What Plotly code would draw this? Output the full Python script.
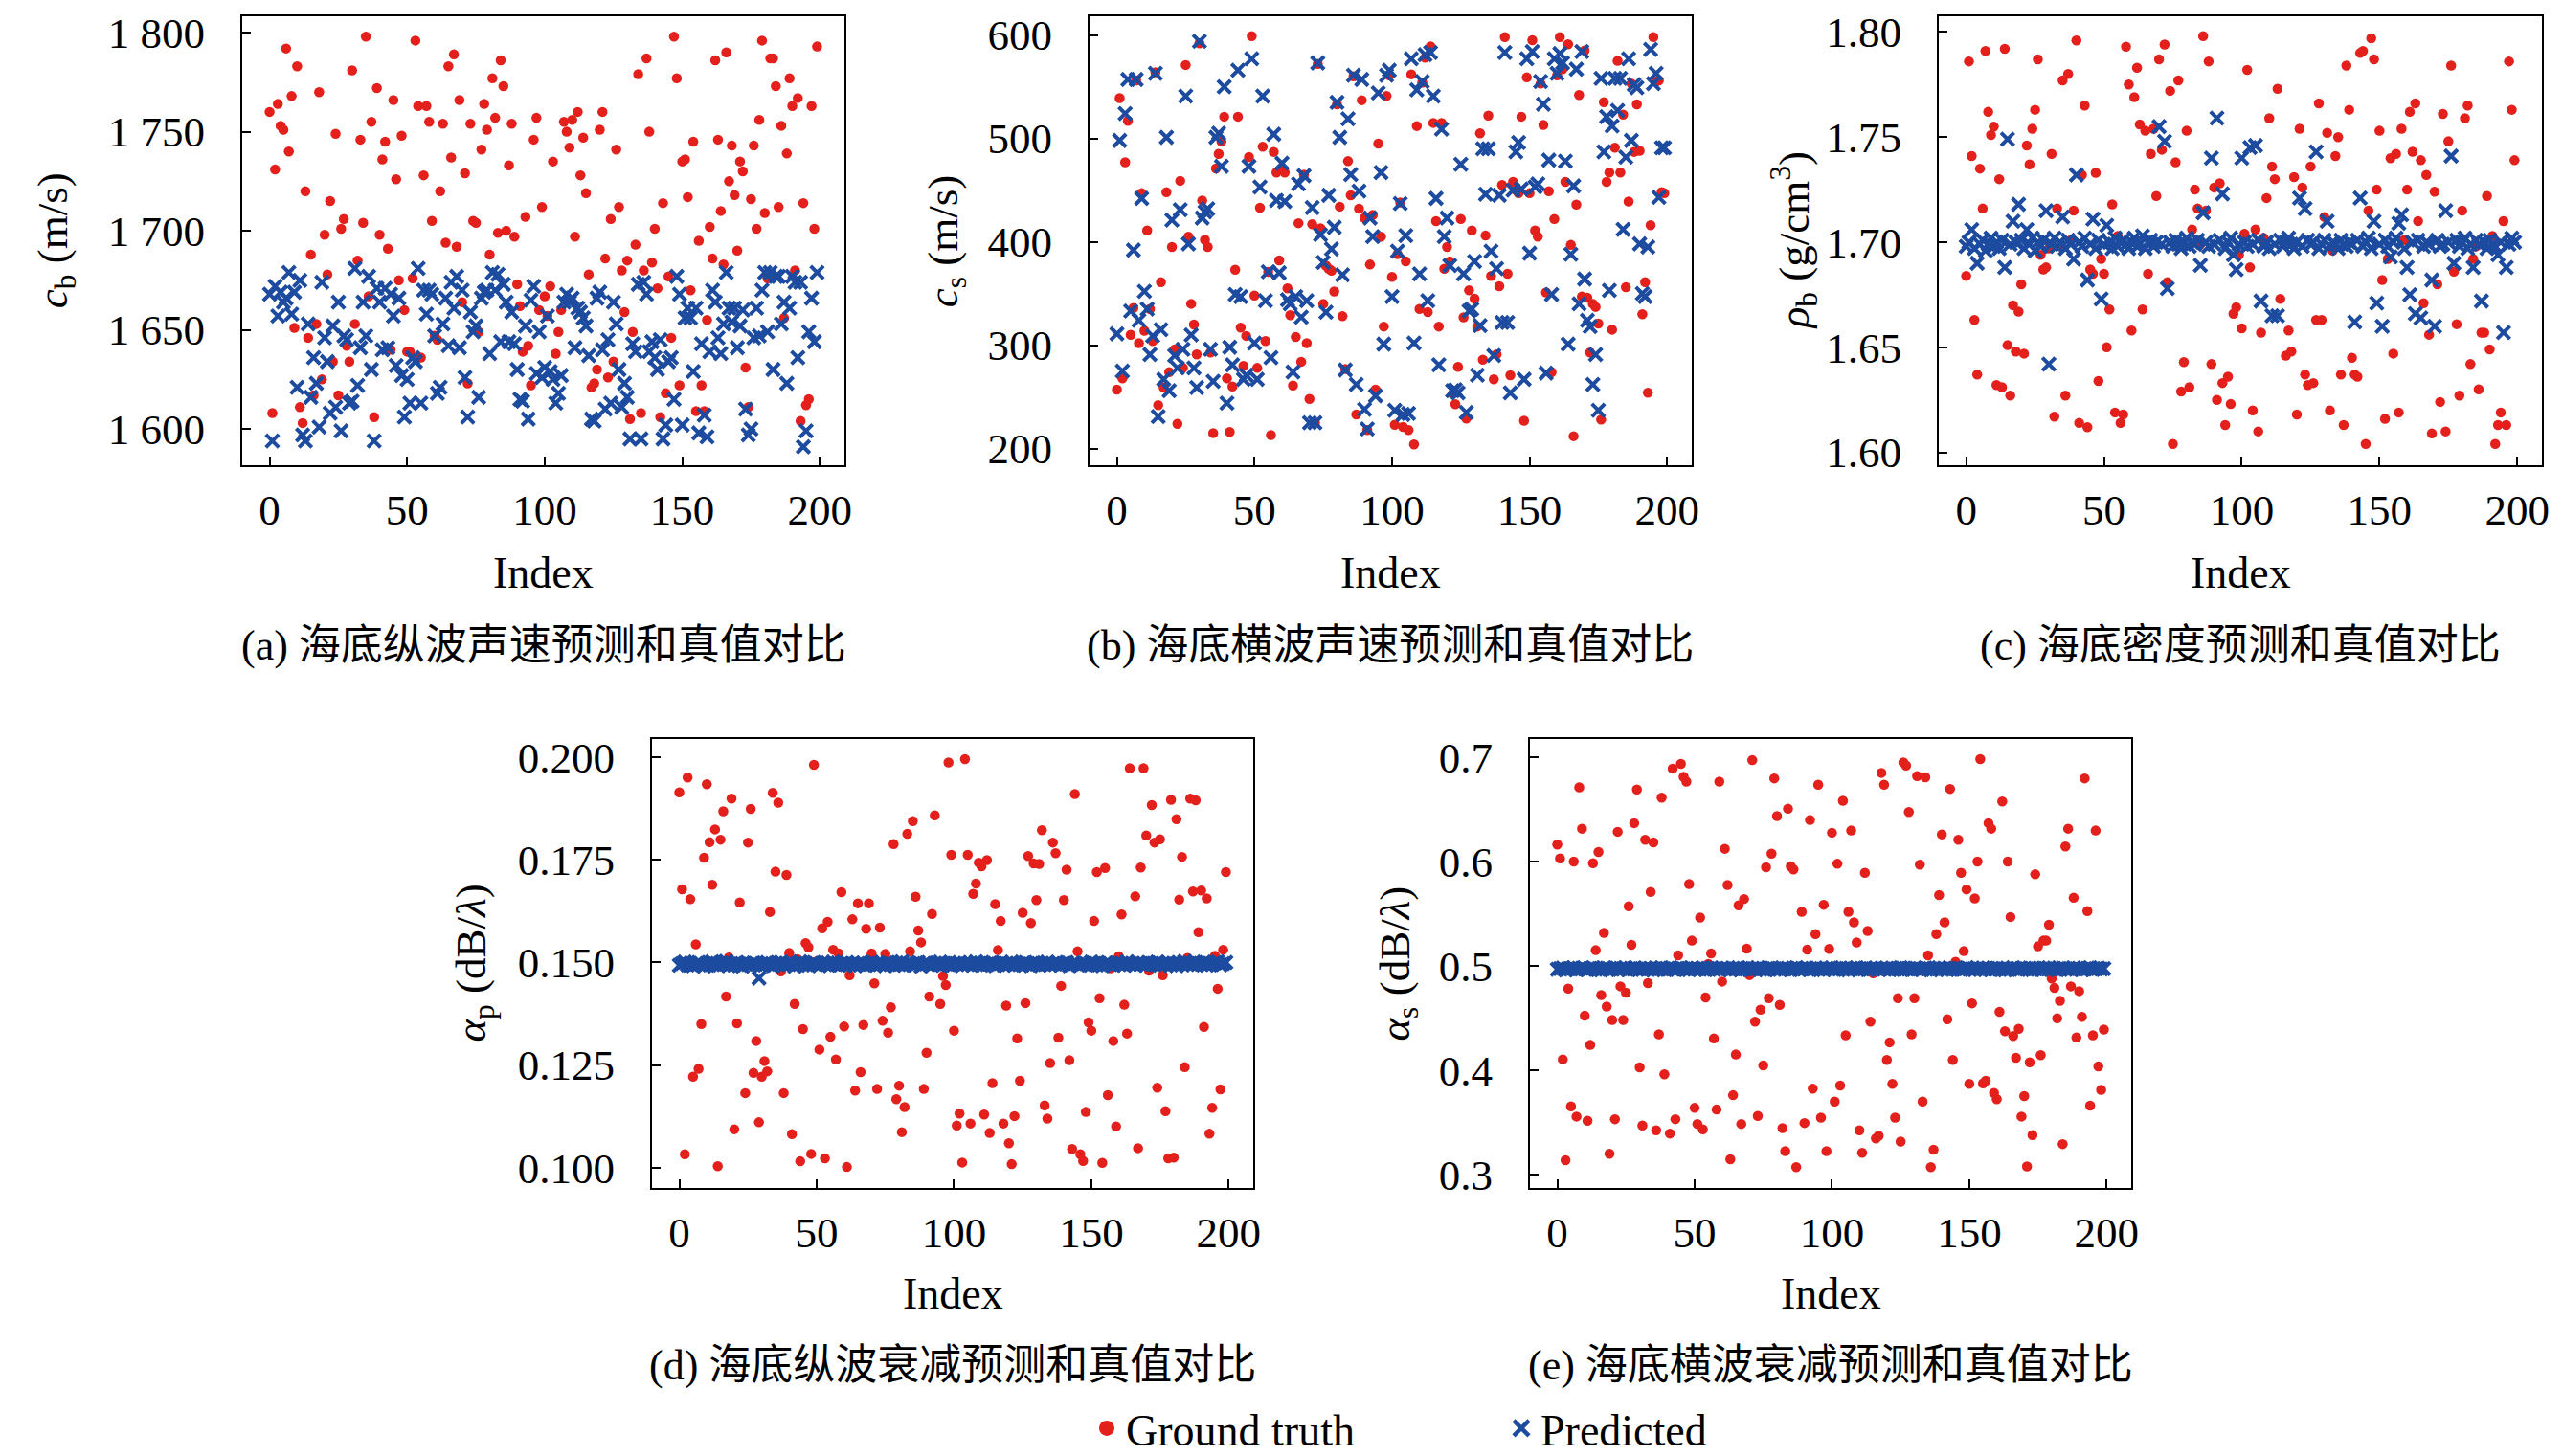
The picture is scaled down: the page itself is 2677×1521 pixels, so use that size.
import plotly.graph_objects as go

# ---------------- data ----------------
a_true = [1760, 1608, 1731, 1764, 1753, 1751, 1792, 1740, 1768, 1651,
          1783, 1611, 1603, 1720, 1646, 1688, 1617, 1653, 1770, 1625,
          1698, 1678, 1715, 1634, 1749, 1617, 1701, 1706, 1642, 1634,
          1781, 1653, 1685, 1746, 1704, 1798, 1667, 1755, 1606, 1772,
          1698, 1736, 1745, 1691, 1640, 1766, 1726, 1675, 1748, 1660,
          1639, 1639, 1676, 1796, 1763, 1636, 1728, 1763, 1755, 1705,
          1647, 1645, 1720, 1754, 1694, 1783, 1737, 1789, 1692, 1766,
          1664, 1729, 1623, 1754, 1705, 1704, 1649, 1741, 1764, 1751,
          1688, 1777, 1757, 1699, 1786, 1773, 1700, 1733, 1754, 1697,
          1673, 1662, 1639, 1707, 1642, 1622, 1746, 1757, 1660, 1712,
          1667, 1657, 1672, 1735, 1638, 1649, 1660, 1755, 1750, 1742,
          1756, 1697, 1760, 1728, 1747, 1719, 1678, 1621, 1623, 1630,
          1751, 1760, 1686, 1626, 1706, 1634, 1741, 1712, 1680, 1659,
          1685, 1605, 1649, 1693, 1779, 1608, 1680, 1787, 1750, 1684,
          1701, 1671, 1606, 1714, 1618, 1677, 1646, 1798, 1777, 1622,
          1735, 1736, 1717, 1670, 1745, 1609, 1695, 1622, 1609, 1655,
          1702, 1686, 1786, 1746, 1710, 1683, 1790, 1725, 1743, 1718,
          1690, 1735, 1730, 1631, 1611, 1716, 1743, 1701, 1756, 1796,
          1709, 1676, 1787, 1787, 1773, 1712, 1753, 1656, 1739, 1777,
          1763, 1680, 1767, 1604, 1714, 1612, 1615, 1763, 1701, 1793]
a_pred = [1668, 1594, 1672, 1657, 1669, 1664, 1666, 1679, 1658, 1669,
          1621, 1675, 1597, 1594, 1653, 1616, 1636, 1623, 1601, 1674,
          1646, 1634, 1608, 1652, 1611, 1664, 1599, 1647, 1645, 1613,
          1614, 1681, 1622, 1641, 1664, 1647, 1677, 1630, 1594, 1671,
          1664, 1640, 1671, 1641, 1668, 1657, 1632, 1666, 1627, 1606,
          1625, 1613, 1636, 1634, 1681, 1613, 1670, 1658, 1670, 1668,
          1647, 1618, 1621, 1653, 1666, 1642, 1674, 1661, 1677, 1641,
          1670, 1626, 1606, 1659, 1649, 1652, 1616, 1666, 1669, 1670,
          1638, 1679, 1670, 1678, 1644, 1673, 1664, 1644, 1659, 1643,
          1630, 1615, 1614, 1652, 1605, 1665, 1672, 1628, 1649, 1626,
          1631, 1657, 1629, 1625, 1613, 1618, 1627, 1664, 1668, 1664,
          1666, 1641, 1661, 1659, 1656, 1652, 1637, 1605, 1604, 1666,
          1669, 1640, 1610, 1645, 1613, 1664, 1653, 1630, 1611, 1623,
          1616, 1595, 1643, 1639, 1673, 1595, 1674, 1668, 1639, 1644,
          1636, 1630, 1645, 1595, 1602, 1634, 1636, 1615, 1677, 1668,
          1602, 1656, 1661, 1656, 1629, 1661, 1598, 1643, 1607, 1596,
          1639, 1670, 1664, 1646, 1638, 1653, 1679, 1661, 1654, 1661,
          1641, 1652, 1660, 1610, 1597, 1600, 1646, 1661, 1647, 1670,
          1679, 1649, 1679, 1630, 1677, 1677, 1653, 1664, 1623, 1661,
          1677, 1674, 1636, 1674, 1591, 1599, 1649, 1666, 1644, 1679]

b_true = [257, 539, 268, 477, 517, 310, 336, 556, 302, 447,
          314, 411, 335, 304, 564, 242, 361, 259, 448, 274,
          395, 296, 224, 459, 278, 571, 405, 340, 320, 291,
          592, 440, 402, 395, 293, 215, 471, 485, 497, 521,
          268, 216, 260, 373, 521, 317, 280, 309, 482, 599,
          348, 278, 433, 492, 304, 371, 213, 487, 467, 382,
          471, 467, 355, 329, 261, 308, 418, 284, 465, 302,
          248, 417, 225, 572, 413, 340, 377, 374, 372, 352,
          533, 434, 328, 277, 478, 445, 560, 233, 432, 537,
          423, 218, 378, 426, 257, 495, 405, 318, 541, 561,
          366, 223, 388, 438, 221, 381, 218, 562, 204, 512,
          335, 554, 578, 332, 589, 515, 420, 318, 515, 374,
          395, 381, 253, 243, 279, 422, 327, 229, 353, 411,
          345, 318, 505, 286, 406, 522, 367, 267, 291, 357,
          455, 598, 369, 271, 458, 450, 447, 521, 227, 559,
          447, 595, 411, 405, 553, 513, 351, 449, 274, 422,
          561, 598, 567, 458, 591, 397, 212, 436, 542, 347,
          585, 346, 293, 340, 337, 321, 228, 535, 458, 467,
          315, 491, 575, 467, 523, 356, 439, 553, 487, 533,
          488, 330, 361, 254, 416, 598, 555, 556, 448, 447]
b_pred = [311, 498, 275, 524, 557, 333, 392, 557, 324, 442,
          352, 335, 291, 309, 563, 231, 315, 267, 501, 256,
          421, 290, 278, 431, 296, 541, 398, 310, 278, 259,
          594, 423, 429, 432, 296, 265, 501, 505, 473, 550,
          244, 298, 281, 349, 566, 347, 267, 271, 473, 577,
          302, 267, 453, 541, 343, 371, 288, 504, 440, 370,
          476, 439, 344, 340, 274, 347, 456, 327, 464, 343,
          225, 433, 225, 573, 407, 380, 332, 445, 393, 414,
          535, 501, 368, 276, 519, 465, 561, 262, 449, 557,
          238, 219, 423, 405, 251, 544, 467, 301, 561, 566,
          347, 237, 391, 437, 233, 406, 234, 577, 302, 547,
          369, 555, 581, 343, 583, 541, 442, 281, 509, 405,
          423, 377, 256, 257, 254, 475, 369, 235, 333, 335,
          381, 271, 319, 490, 446, 490, 391, 290, 374, 445,
          322, 583, 322, 254, 450, 487, 496, 451, 267, 577,
          389, 584, 453, 456, 555, 533, 273, 479, 349, 577,
          563, 582, 573, 478, 301, 388, 454, 567, 340, 584,
          364, 324, 318, 262, 291, 237, 558, 487, 521, 353,
          512, 558, 527, 558, 412, 482, 577, 498, 552, 549,
          398, 350, 347, 395, 586, 553, 563, 443, 491, 491]

c_true = [1.684, 1.786, 1.741, 1.663, 1.637, 1.735, 1.716, 1.791, 1.762, 1.751,
          1.755, 1.632, 1.730, 1.631, 1.792, 1.651, 1.627, 1.670, 1.648, 1.667,
          1.680, 1.647, 1.746, 1.737, 1.754, 1.763, 1.787, 1.694, 1.687, 1.688,
          1.697, 1.742, 1.617, 1.716, 1.698, 1.777, 1.627, 1.780, 1.701, 1.715,
          1.796, 1.614, 1.732, 1.765, 1.612, 1.687, 1.685, 1.733, 1.634, 1.692,
          1.685, 1.650, 1.668, 1.718, 1.619, 1.703, 1.614, 1.618, 1.793, 1.775,
          1.658, 1.769, 1.783, 1.756, 1.668, 1.753, 1.685, 1.742, 1.754, 1.722,
          1.787, 1.744, 1.794, 1.681, 1.772, 1.604, 1.738, 1.777, 1.629, 1.643,
          1.753, 1.631, 1.706, 1.725, 1.716, 1.699, 1.798, 1.715, 1.786, 1.642,
          1.726, 1.625, 1.728, 1.633, 1.613, 1.636, 1.623, 1.666, 1.669, 1.694,
          1.659, 1.704, 1.782, 1.688, 1.620, 1.706, 1.610, 1.657, 1.702, 1.721,
          1.759, 1.736, 1.730, 1.773, 1.673, 1.700, 1.646, 1.658, 1.648, 1.731,
          1.618, 1.754, 1.726, 1.637, 1.632, 1.736, 1.633, 1.663, 1.766, 1.663,
          1.712, 1.752, 1.620, 1.696, 1.741, 1.750, 1.637, 1.613, 1.784, 1.763,
          1.645, 1.637, 1.636, 1.790, 1.791, 1.604, 1.715, 1.797, 1.787, 1.725,
          1.753, 1.682, 1.616, 1.692, 1.740, 1.647, 1.742, 1.619, 1.754, 1.701,
          1.725, 1.762, 1.743, 1.766, 1.710, 1.739, 1.671, 1.732, 1.656, 1.609,
          1.724, 1.680, 1.624, 1.761, 1.610, 1.748, 1.784, 1.686, 1.661, 1.627,
          1.715, 1.759, 1.765, 1.642, 1.692, 1.698, 1.630, 1.657, 1.657, 1.722,
          1.649, 1.703, 1.604, 1.613, 1.619, 1.710, 1.613, 1.786, 1.763, 1.739]
c_pred = [1.698, 1.700, 1.706, 1.697, 1.690, 1.699, 1.701, 1.696, 1.699, 1.702,
          1.698, 1.700, 1.697, 1.701, 1.688, 1.749, 1.699, 1.710, 1.700, 1.718,
          1.701, 1.697, 1.706, 1.699, 1.702, 1.696, 1.700, 1.698, 1.701, 1.715,
          1.642, 1.699, 1.702, 1.698, 1.700, 1.712, 1.697, 1.701, 1.699, 1.692,
          1.732, 1.700, 1.698, 1.702, 1.682, 1.699, 1.711, 1.697, 1.701, 1.673,
          1.699, 1.708, 1.700, 1.697, 1.702, 1.698, 1.700, 1.701, 1.699, 1.697,
          1.700, 1.702, 1.698, 1.699, 1.703, 1.697, 1.700, 1.701, 1.698, 1.700,
          1.755, 1.699, 1.748, 1.678, 1.700, 1.698, 1.701, 1.699, 1.697, 1.700,
          1.702, 1.698, 1.700, 1.699, 1.701, 1.689, 1.714, 1.700, 1.698, 1.740,
          1.699, 1.759, 1.701, 1.723, 1.697, 1.700, 1.702, 1.694, 1.687, 1.699,
          1.740, 1.700, 1.698, 1.745, 1.699, 1.746, 1.701, 1.672, 1.698, 1.700,
          1.697, 1.665, 1.699, 1.665, 1.701, 1.698, 1.700, 1.702, 1.699, 1.697,
          1.700, 1.721, 1.698, 1.716, 1.701, 1.699, 1.700, 1.743, 1.697, 1.699,
          1.701, 1.710, 1.698, 1.700, 1.699, 1.697, 1.701, 1.699, 1.698, 1.700,
          1.699, 1.662, 1.701, 1.721, 1.698, 1.700, 1.702, 1.697, 1.710, 1.671,
          1.699, 1.660, 1.701, 1.698, 1.693, 1.700, 1.702, 1.709, 1.713, 1.697,
          1.688, 1.675, 1.700, 1.666, 1.701, 1.664, 1.698, 1.700, 1.699, 1.682,
          1.660, 1.701, 1.698, 1.699, 1.715, 1.700, 1.741, 1.690, 1.701, 1.698,
          1.700, 1.702, 1.697, 1.699, 1.688, 1.701, 1.699, 1.672, 1.700, 1.697,
          1.701, 1.699, 1.698, 1.694, 1.700, 1.657, 1.688, 1.699, 1.702, 1.700]

d_true = [0.1914, 0.1678, 0.1033, 0.1950, 0.1654, 0.1222, 0.1544, 0.1241, 0.1350, 0.1755,
          0.1934, 0.1793, 0.1689, 0.1824, 0.1004, 0.1799, 0.1868, 0.1417, 0.1512, 0.1899,
          0.1094, 0.1352, 0.1646, 0.1495, 0.1182, 0.1792, 0.1874, 0.1231, 0.1309, 0.1111,
          0.1222, 0.1260, 0.1235, 0.1623, 0.1913, 0.1721, 0.1889, 0.1478, 0.1182, 0.1713,
          0.1523, 0.1082, 0.1399, 0.1508, 0.1016, 0.1338, 0.1547, 0.1537, 0.1034, 0.1981,
          0.1503, 0.1288, 0.1583, 0.1023, 0.1599, 0.1319, 0.1531, 0.1264, 0.1522, 0.1671,
          0.1344, 0.1002, 0.1469, 0.1605, 0.1188, 0.1644, 0.1233, 0.1348, 0.1582, 0.1644,
          0.1522, 0.1449, 0.1192, 0.1585, 0.1358, 0.1521, 0.1329, 0.1391, 0.1788, 0.1167,
          0.1200, 0.1087, 0.1148, 0.1813, 0.1527, 0.1844, 0.1660, 0.1578, 0.1549, 0.1192,
          0.1280, 0.1417, 0.1618, 0.1858, 0.1492, 0.1399, 0.1467, 0.1445, 0.1987, 0.1762,
          0.1334, 0.1103, 0.1132, 0.1013, 0.1995, 0.1762, 0.1108, 0.1667, 0.1692, 0.1743,
          0.1734, 0.1130, 0.1749, 0.1085, 0.1206, 0.1642, 0.1530, 0.1601, 0.1108, 0.1395,
          0.1060, 0.1009, 0.1126, 0.1315, 0.1212, 0.1621, 0.1401, 0.1759, 0.1596, 0.1741,
          0.1652, 0.1740, 0.1822, 0.1152, 0.1120, 0.1255, 0.1792, 0.1766, 0.1317, 0.1443,
          0.1652, 0.1726, 0.1262, 0.1046, 0.1910, 0.1527, 0.1033, 0.1017, 0.1136, 0.1354,
          0.1334, 0.1601, 0.1720, 0.1413, 0.1012, 0.1730, 0.1177, 0.1486, 0.1309, 0.1101,
          0.1515, 0.1617, 0.1397, 0.1327, 0.1973, 0.1498, 0.1661, 0.1048, 0.1731, 0.1973,
          0.1809, 0.1480, 0.1883, 0.1792, 0.1195, 0.1800, 0.1469, 0.1138, 0.1023, 0.1896,
          0.1025, 0.1849, 0.1653, 0.1757, 0.1245, 0.1511, 0.1899, 0.1673, 0.1895, 0.1574,
          0.1675, 0.1343, 0.1656, 0.1083, 0.1146, 0.1516, 0.1436, 0.1191, 0.1531, 0.1720]
d_pred = [0.1493, 0.1497, 0.1501, 0.1494, 0.1498, 0.1492, 0.1496, 0.1500, 0.1495, 0.1491,
          0.1498, 0.1494, 0.1502, 0.1496, 0.1493, 0.1499, 0.1495, 0.1503, 0.1492, 0.1497,
          0.1494, 0.1500, 0.1496, 0.1491, 0.1498, 0.1495, 0.1493, 0.1499, 0.1496, 0.1462,
          0.1497, 0.1494, 0.1500, 0.1495, 0.1492, 0.1498, 0.1496, 0.1501, 0.1493, 0.1497,
          0.1495, 0.1499, 0.1491, 0.1496, 0.1502, 0.1494, 0.1498, 0.1493, 0.1497, 0.1500,
          0.1495, 0.1492, 0.1498, 0.1496, 0.1499, 0.1494, 0.1501, 0.1495, 0.1493, 0.1497,
          0.1496, 0.1500, 0.1494, 0.1498, 0.1492, 0.1497, 0.1495, 0.1499, 0.1493, 0.1496,
          0.1501, 0.1494, 0.1498, 0.1495, 0.1497, 0.1492, 0.1500, 0.1496, 0.1494, 0.1499,
          0.1495, 0.1502, 0.1493, 0.1497, 0.1498, 0.1494, 0.1496, 0.1500, 0.1491, 0.1497,
          0.1499, 0.1495, 0.1493, 0.1498, 0.1496, 0.1501, 0.1494, 0.1497, 0.1495, 0.1492,
          0.1498, 0.1496, 0.1500, 0.1493, 0.1497, 0.1495, 0.1499, 0.1494, 0.1502, 0.1496,
          0.1493, 0.1498, 0.1495, 0.1497, 0.1500, 0.1492, 0.1496, 0.1499, 0.1494, 0.1497,
          0.1495, 0.1501, 0.1493, 0.1498, 0.1496, 0.1494, 0.1500, 0.1497, 0.1492, 0.1499,
          0.1496, 0.1494, 0.1498, 0.1495, 0.1501, 0.1493, 0.1497, 0.1496, 0.1499, 0.1494,
          0.1497, 0.1500, 0.1492, 0.1496, 0.1498, 0.1495, 0.1493, 0.1499, 0.1497, 0.1494,
          0.1501, 0.1496, 0.1494, 0.1498, 0.1492, 0.1497, 0.1500, 0.1495, 0.1493, 0.1499,
          0.1496, 0.1498, 0.1494, 0.1502, 0.1495, 0.1497, 0.1493, 0.1500, 0.1496, 0.1498,
          0.1494, 0.1499, 0.1497, 0.1495, 0.1501, 0.1493, 0.1498, 0.1496, 0.1500, 0.1494,
          0.1497, 0.1492, 0.1499, 0.1496, 0.1503, 0.1495, 0.1498, 0.1494, 0.1500, 0.1497,
          0.1496, 0.1501, 0.1493, 0.1498, 0.1495, 0.1499, 0.1502, 0.1494, 0.1497, 0.1500]

e_true = [0.6165, 0.6033, 0.4105, 0.3138, 0.4784, 0.3654, 0.6002, 0.3556, 0.6715, 0.6318,
          0.4523, 0.3516, 0.4243, 0.5987, 0.5152, 0.6094, 0.4722, 0.5318, 0.4612, 0.3200,
          0.4483, 0.3531, 0.6288, 0.4805, 0.4483, 0.4744, 0.5573, 0.5204, 0.6371, 0.6693,
          0.4028, 0.3470, 0.6211, 0.4836, 0.5711, 0.6186, 0.3424, 0.4345, 0.6616, 0.3961,
          0.4952, 0.3393, 0.6893, 0.3531, 0.5103, 0.6939, 0.6816, 0.6770, 0.5787, 0.5244,
          0.3639, 0.3485, 0.5465, 0.3433, 0.4698, 0.5021, 0.5121, 0.4305, 0.3623, 0.6770,
          0.4851, 0.6125, 0.5778, 0.3147, 0.3761, 0.4151, 0.5582, 0.3485, 0.5643, 0.5167,
          0.4913, 0.6975, 0.4467, 0.3562, 0.4581, 0.4047, 0.5947, 0.4691, 0.6079, 0.6800,
          0.6438, 0.4627, 0.3445, 0.3224, 0.6509, 0.5956, 0.5926, 0.3071, 0.4985, 0.5520,
          0.3494, 0.5158, 0.6401, 0.3823, 0.5306, 0.6739, 0.3546, 0.5588, 0.3224, 0.5164,
          0.6279, 0.3700, 0.5981, 0.3854, 0.6586, 0.4335, 0.5520, 0.6300, 0.5419, 0.5226,
          0.3424, 0.3209, 0.5895, 0.5336, 0.4467, 0.4930, 0.3347, 0.3372, 0.6853, 0.6739,
          0.4099, 0.4268, 0.3869, 0.3546, 0.4691, 0.3316, 0.6954, 0.6923, 0.6478, 0.4345,
          0.4691, 0.6822, 0.5972, 0.3700, 0.6810, 0.5103, 0.3071, 0.3239, 0.5306, 0.5680,
          0.6263, 0.5419, 0.4489, 0.6699, 0.4099, 0.5040, 0.6211, 0.5895, 0.5143, 0.5735,
          0.3869, 0.4642, 0.5649, 0.6002, 0.6985, 0.3875, 0.3900, 0.6371, 0.6318, 0.3783,
          0.3722, 0.4560, 0.6579, 0.4375, 0.6002, 0.5471, 0.4329, 0.4120, 0.4397, 0.3556,
          0.3752, 0.3077, 0.4077, 0.3378, 0.5880, 0.5189, 0.4145, 0.5244, 0.5244, 0.5397,
          0.4880, 0.4790, 0.4498, 0.4667, 0.3292, 0.6147, 0.6318, 0.4805, 0.5655, 0.4314,
          0.4759, 0.4513, 0.6800, 0.5527, 0.3660, 0.4335, 0.6300, 0.4038, 0.3813, 0.4391]
e_pred = [0.4968, 0.4975, 0.4981, 0.4962, 0.4977, 0.4970, 0.4984, 0.4966, 0.4973, 0.4979,
          0.4971, 0.4964, 0.4978, 0.4983, 0.4969, 0.4974, 0.4961, 0.4976, 0.4980, 0.4967,
          0.4972, 0.4985, 0.4965, 0.4977, 0.4970, 0.4982, 0.4963, 0.4975, 0.4979, 0.4968,
          0.4974, 0.4966, 0.4981, 0.4971, 0.4976, 0.4962, 0.4978, 0.4969, 0.4984, 0.4973,
          0.4967, 0.4980, 0.4972, 0.4965, 0.4977, 0.4983, 0.4970, 0.4975, 0.4963, 0.4979,
          0.4971, 0.4976, 0.4968, 0.4982, 0.4964, 0.4974, 0.4980, 0.4969, 0.4977, 0.4966,
          0.4981, 0.4972, 0.4975, 0.4962, 0.4978, 0.4970, 0.4984, 0.4967, 0.4973, 0.4979,
          0.4965, 0.4976, 0.4971, 0.4983, 0.4968, 0.4974, 0.4961, 0.4977, 0.4980, 0.4969,
          0.4975, 0.4966, 0.4982, 0.4972, 0.4978, 0.4964, 0.4970, 0.4985, 0.4967, 0.4976,
          0.4973, 0.4979, 0.4963, 0.4971, 0.4981, 0.4968, 0.4975, 0.4965, 0.4977, 0.4970,
          0.4983, 0.4966, 0.4974, 0.4980, 0.4969, 0.4976, 0.4962, 0.4978, 0.4972, 0.4984,
          0.4967, 0.4973, 0.4979, 0.4964, 0.4975, 0.4970, 0.4982, 0.4968, 0.4977, 0.4971,
          0.4976, 0.4963, 0.4980, 0.4969, 0.4974, 0.4985, 0.4966, 0.4978, 0.4972, 0.4965,
          0.4979, 0.4970, 0.4975, 0.4967, 0.4981, 0.4973, 0.4962, 0.4977, 0.4969, 0.4983,
          0.4971, 0.4976, 0.4964, 0.4980, 0.4968, 0.4974, 0.4978, 0.4966, 0.4972, 0.4984,
          0.4970, 0.4975, 0.4963, 0.4979, 0.4967, 0.4982, 0.4971, 0.4976, 0.4965, 0.4973,
          0.4980, 0.4968, 0.4977, 0.4962, 0.4974, 0.4969, 0.4983, 0.4972, 0.4966, 0.4978,
          0.4975, 0.4970, 0.4981, 0.4964, 0.4976, 0.4971, 0.4967, 0.4979, 0.4973, 0.4985,
          0.4968, 0.4977, 0.4963, 0.4974, 0.4980, 0.4969, 0.4975, 0.4966, 0.4982, 0.4972,
          0.4978, 0.4965, 0.4971, 0.4976, 0.4984, 0.4967, 0.4973, 0.4979, 0.4970, 0.4975]

x_tickvals = [0, 50, 100, 150, 200]
x_ticktext = ["0", "50", "100", "150", "200"]
a_ticks = [1600, 1650, 1700, 1750, 1800]
a_ticktext = ["1 600", "1 650", "1 700", "1 750", "1 800"]
b_ticks = [200, 300, 400, 500, 600]
b_ticktext = ["200", "300", "400", "500", "600"]
c_ticks = [1.60, 1.65, 1.70, 1.75, 1.80]
c_ticktext = ["1.60", "1.65", "1.70", "1.75", "1.80"]
d_ticks = [0.100, 0.125, 0.150, 0.175, 0.200]
d_ticktext = ["0.100", "0.125", "0.150", "0.175", "0.200"]
e_ticks = [0.3, 0.4, 0.5, 0.6, 0.7]
e_ticktext = ["0.3", "0.4", "0.5", "0.6", "0.7"]

y_titles = ["<i>c</i><sub>b</sub> (m/s)", "<i>c</i><sub>s</sub> (m/s)",
            "<i>ρ</i><sub>b</sub> (g/cm<sup>3</sup>)",
            "<i>α</i><sub>p</sub> (dB/<i>λ</i>)", "<i>α</i><sub>s</sub> (dB/<i>λ</i>)"]
captions = ["(a) 海底纵波声速预测和真值对比", "(b) 海底横波声速预测和真值对比",
            "(c) 海底密度预测和真值对比", "(d) 海底纵波衰减预测和真值对比",
            "(e) 海底横波衰减预测和真值对比"]
series_names = ["Ground truth", "Predicted"]

# ---------------- layout geometry (px of 2677x1521) ----------------
W, H = 2677, 1521
FONT = "Liberation Serif, Noto Sans CJK SC, serif"
RED = "#e3201b"
BLUE = "#1c4b9f"

panels = [
    dict(x0=245, x1=874, y0=8.5, y1=478, yr=[1581.7, 1808.5], tv=a_ticks, tt=a_ticktext,
         true=a_true, pred=a_pred, ytx=50),
    dict(x0=1130, x1=1759, y0=8.5, y1=478, yr=[183.9, 618.6], tv=b_ticks, tt=b_ticktext,
         true=b_true, pred=b_pred, ytx=980),
    dict(x0=2017, x1=2647, y0=8.5, y1=478, yr=[1.5939, 1.8077], tv=c_ticks, tt=c_ticktext,
         true=c_true, pred=c_pred, ytx=1865),
    dict(x0=673, x1=1301, y0=764, y1=1233, yr=[0.0951, 0.2044], tv=d_ticks, tt=d_ticktext,
         true=d_true, pred=d_pred, ytx=487),
    dict(x0=1590, x1=2218, y0=764, y1=1233, yr=[0.2871, 0.7178], tv=e_ticks, tt=e_ticktext,
         true=e_true, pred=e_pred, ytx=1452),
]

fig = go.Figure()
layout = dict(width=W, height=H,
              margin=dict(l=0, r=0, t=0, b=0, autoexpand=False),
              paper_bgcolor="white", plot_bgcolor="white",
              font=dict(family=FONT, size=45, color="black"))
annotations = []

for i, p in enumerate(panels):
    k = "" if i == 0 else str(i + 1)
    xa, ya = "x" + k, "y" + k
    common = dict(showline=True, mirror=True, linecolor="black", linewidth=2,
                  ticks="inside", ticklen=9, tickwidth=1.5, tickcolor="black",
                  showgrid=False, zeroline=False, automargin=False,
                  tickfont=dict(family=FONT, size=45, color="black"))
    layout["xaxis" + k] = dict(domain=[p["x0"] / W, p["x1"] / W], anchor=ya,
                              range=[-9.95, 208.95], tickmode="array",
                              tickvals=x_tickvals, ticktext=x_ticktext,
                              ticklabelstandoff=6, **common)
    layout["yaxis" + k] = dict(domain=[1 - p["y1"] / H, 1 - p["y0"] / H], anchor=xa,
                              range=p["yr"], tickmode="array", tickvals=p["tv"],
                              ticktext=p["tt"], ticklabelstandoff=28, **common)
    idx = list(range(len(p["true"])))
    fig.add_trace(go.Scatter(x=idx, y=p["true"], mode="markers", xaxis=xa, yaxis=ya,
                             name=series_names[0], showlegend=False,
                             marker=dict(symbol="circle", size=10.5, color=RED,
                                         line=dict(width=0))))
    idxp = list(range(len(p["pred"])))
    fig.add_trace(go.Scatter(x=idxp, y=p["pred"], mode="markers", xaxis=xa, yaxis=ya,
                             name=series_names[1], showlegend=False,
                             marker=dict(symbol="x-thin", size=13.5, color=BLUE,
                                         line=dict(width=4, color=BLUE))))
    cx = (p["x0"] + p["x1"]) / 2 / W
    cy = 1 - (p["y0"] + p["y1"]) / 2 / H
    row2 = i >= 3
    annotations.append(dict(text=y_titles[i], x=p["ytx"] / W, y=cy, xref="paper",
                            yref="paper", textangle=-90, showarrow=False,
                            xanchor="center", yanchor="middle",
                            font=dict(family=FONT, size=45, color="black")))
    annotations.append(dict(text="Index", x=cx, y=1 - (1343 if row2 else 590) / H,
                            xref="paper", yref="paper", showarrow=False,
                            xanchor="center", yanchor="middle",
                            font=dict(family=FONT, size=46, color="black")))
    annotations.append(dict(text=captions[i], x=cx, y=1 - (1418 if row2 else 667) / H,
                            xref="paper", yref="paper", showarrow=False,
                            xanchor="center", yanchor="middle",
                            font=dict(family=FONT, size=44, color="black")))

# legend entries (no data; they only carry the legend symbols)
fig.add_trace(go.Scatter(x=[None], y=[None], mode="markers", name=series_names[0],
                         marker=dict(symbol="circle", size=16, color=RED, line=dict(width=0))))
fig.add_trace(go.Scatter(x=[None], y=[None], mode="markers", name=series_names[1],
                         marker=dict(symbol="x-thin", size=16, color=BLUE,
                                     line=dict(width=4.5, color=BLUE))))

layout["annotations"] = annotations
layout["legend"] = dict(orientation="h", x=1128 / W, xanchor="left",
                        y=1 - 1484 / H, yanchor="middle",
                        font=dict(family=FONT, size=46, color="black"),
                        entrywidth=388, itemsizing="trace", bgcolor="rgba(0,0,0,0)")
fig.update_layout(**layout)
fig.write_html("out.html")
